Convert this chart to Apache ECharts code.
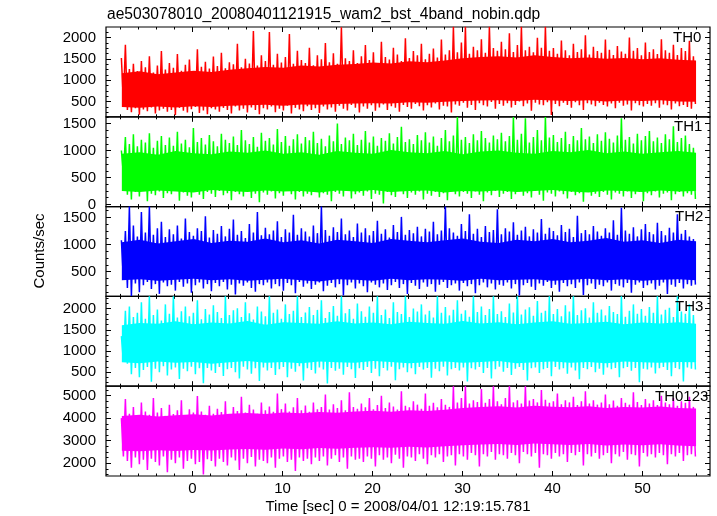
<!DOCTYPE html>
<html><head><meta charset="utf-8">
<script src="https://cdn.jsdelivr.net/npm/echarts@6/dist/echarts.min.js"></script>
<style>html,body{margin:0;padding:0;background:#fff}#c{width:717px;height:516px}</style>
</head><body><div id="c"></div>
<script>
// ---- data: per-sample-bin peak (Hi) and dip (Lo) count rates ----
const th0Hi = [1520,1830,1260,1380,1210,1450,1300,1560,1180,1340,1680,1250,
1400,1290,1610,1220,1360,1480,1190,1720,1310,1430,1270,1550,
1330,1640,1280,1420,1370,1850,1300,1500,1390,2150,1340,1580,
1450,2130,1360,1620,1410,1540,2080,1380,1690,1470,1400,1760,
1350,1580,1490,1870,1420,1630,1380,2240,1510,1450,1700,1400,
1560,1820,1470,1650,1390,1900,1540,1480,1760,1600,1450,1980,
1520,1680,1580,1850,1490,1620,1740,1530,1950,1600,1700,2250,
1650,1880,2250,1620,1780,1700,1960,1640,2250,1750,1690,1900,
1720,2100,1660,1820,2250,1700,1780,1650,1990,1760,2250,1690,
1750,1620,1930,1700,1580,1850,1660,1720,2050,1600,1780,1680,
1640,1950,1710,1590,1800,1670,1620,2000,1690,1750,1580,1880,
1660,1720,1610,1960,1700,1640,1830,1590,1750,1680,1920,1560];
const th0Lo = [480,300,250,340,190,310,270,360,220,290,330,260,
300,180,350,280,240,320,370,230,290,200,340,310,
260,350,300,220,380,290,330,240,360,300,200,340,
310,380,250,330,290,400,220,350,310,270,390,300,
340,230,380,310,360,260,400,330,290,420,350,240,
380,330,410,280,360,430,300,390,350,260,420,370,
330,440,390,290,410,360,450,310,400,380,240,430,
400,470,350,420,300,460,410,380,490,330,440,400,
460,360,420,500,390,450,280,470,430,410,480,180,
440,390,470,420,350,480,410,300,460,430,390,470,
420,380,450,340,470,400,430,290,460,410,380,440,
400,460,350,430,410,310,450,390,420,370,330,440];
const th1Hi = [1000,1250,1120,1300,1080,1200,1150,1320,1050,1180,1270,1100,
1240,1090,1350,1130,1200,1060,1420,1160,1230,1110,1290,1170,
1080,1310,1200,1140,1260,1100,1380,1190,1120,1250,1070,1330,
1180,1230,1110,1400,1160,1270,1090,1210,1300,1130,1250,1190,
1350,1140,1220,1080,1280,1170,1500,1120,1240,1190,1310,1100,
1200,1360,1150,1260,1090,1230,1180,1320,1130,1250,1440,1160,
1210,1120,1290,1190,1340,1150,1260,1090,1230,1380,1170,1280,
1620,1200,1250,1140,1300,1190,1360,1230,1150,1280,1210,1330,
1170,1270,1620,1200,1310,1600,1150,1250,1380,1190,1620,1240,
1290,1160,1230,1350,1120,1270,1190,1420,1210,1260,1140,1300,
1180,1340,1220,1150,1280,1600,1200,1250,1130,1310,1190,1270,
1360,1170,1240,1140,1300,1210,1450,1160,1230,1280,1120,1050];
const th1Lo = [560,180,90,230,150,260,60,200,170,240,120,210,
190,250,70,220,160,130,240,180,100,230,200,140,
250,170,210,80,230,190,150,260,120,200,40,220,
180,240,110,210,160,250,190,90,230,150,200,170,
240,130,210,180,60,230,200,150,250,110,190,220,
160,240,100,200,180,20,230,170,140,250,190,120,
220,180,240,90,200,160,230,140,210,80,250,190,
150,230,200,120,240,180,60,220,170,250,140,200,
230,100,190,240,160,210,130,250,180,70,220,200,
150,240,190,110,230,170,210,50,250,160,200,140,
230,180,90,220,200,150,240,120,190,230,60,210,
170,240,130,200,220,80,190,230,150,210,180,100];
const th2Hi = [1080,1250,1700,1350,1150,1600,1220,1700,1180,1300,1420,1140,
1280,1190,1350,1110,1480,1230,1160,1300,1250,1520,1130,1270,
1200,1340,1150,1290,1460,1180,1250,1120,1380,1220,1600,1170,
1310,1190,1260,1430,1140,1280,1220,1550,1180,1300,1240,1150,
1350,1210,1700,1270,1160,1320,1230,1480,1190,1260,1140,1390,
1220,1300,1170,1250,1440,1200,1280,1130,1360,1230,1510,1180,
1270,1210,1330,1150,1290,1240,1420,1190,1260,1700,1300,1220,
1160,1380,1250,1560,1200,1290,1140,1340,1230,1270,1650,1190,
1300,1240,1410,1180,1260,1330,1150,1280,1220,1470,1200,1310,
1250,1170,1360,1230,1290,1140,1530,1210,1270,1190,1340,1240,
1160,1300,1220,1450,1180,1680,1260,1200,1320,1150,1280,1380,
1230,1190,1400,1250,1170,1310,1220,1560,1200,1270,1150,1100];
const th2Lo = [350,200,50,280,120,250,310,180,270,90,300,230,
260,150,310,220,280,110,250,300,190,270,140,290,
230,310,170,260,80,280,240,300,200,130,270,250,
300,190,270,230,150,290,250,100,310,220,280,180,
260,300,140,240,290,210,270,60,250,300,190,280,
230,120,300,260,210,280,160,250,310,200,270,90,
290,240,180,300,220,270,130,260,310,200,250,280,
150,290,230,270,100,250,300,210,280,170,260,240,
300,190,270,60,250,290,220,160,280,240,310,200,
260,130,290,230,270,200,300,70,250,280,180,260,
230,300,150,270,240,210,290,110,260,300,200,250,
280,170,240,300,90,260,220,290,190,270,240,260];
const th3Hi = [1350,1950,2050,1800,1900,2150,1760,2290,1850,1980,1720,2100,
1880,2290,1790,1940,2050,1820,1900,2200,1750,1990,1860,2080,
1920,1780,2290,1850,1960,2010,1800,2150,1890,1740,2050,1930,
1820,2290,1900,1980,1760,2100,1870,1950,2290,1800,1910,2040,
1850,1970,2200,1780,1920,2060,1830,2290,1890,1990,1760,2120,
1940,1810,2050,1900,2290,1850,1980,1780,2150,1920,1870,2290,
1800,2000,1930,2100,1860,1950,1790,2290,1900,2040,1840,1970,
2200,1880,1960,1810,2290,1920,2050,1850,1990,2290,1870,1940,
1800,2120,1910,2290,1860,1980,2030,1830,2180,1900,1950,2290,
1870,1990,1820,2080,1930,2290,1850,1960,2010,1790,2150,1900,
1980,1840,2060,1920,1870,2290,1810,1950,2100,1880,1990,1830,
2040,1900,2290,1860,1970,2020,1800,2290,1930,1880,2100,1850];
const th3Lo = [750,700,450,600,380,550,620,270,580,500,640,420,
560,610,340,580,520,630,450,590,240,600,540,480,
620,410,570,600,500,350,630,560,460,590,290,610,
540,600,430,570,620,380,580,510,640,300,590,550,
470,610,560,230,600,530,580,440,620,570,360,590,
550,620,480,580,400,600,540,630,310,570,610,500,
590,450,620,560,600,370,580,520,630,420,570,600,
540,610,280,590,560,620,480,600,350,570,630,510,
600,430,580,620,550,300,590,610,480,570,600,400,
620,560,590,460,610,540,330,600,570,620,500,580,
440,610,570,600,380,590,620,530,600,260,580,560,
610,470,590,620,550,400,600,570,280,610,580,560];
const th0123Hi = [4000,4850,4200,4500,4050,4700,4300,4150,4900,4250,4450,4100,
4600,4180,4350,4800,4120,4400,4250,4980,4300,4150,4550,4200,
4420,4270,4750,4180,4500,4320,4950,4250,4600,4380,4200,4700,
4350,4520,4280,5100,4400,4650,4300,4480,4900,4350,4560,4280,
4700,4400,4500,5050,4380,4620,4450,4800,4350,5150,4500,4420,
4650,4480,4900,4400,4580,5000,4450,4700,4520,4380,5200,4550,
4480,4750,4600,4420,5100,4550,4680,4480,4850,4600,4500,5420,
4700,4900,5420,4650,4800,4720,5300,4680,4850,5420,4750,4620,
4900,5420,4700,4800,4650,5420,4780,4850,4700,5250,4820,4680,
4750,5100,4620,4800,4700,4950,4580,4750,5200,4650,4800,4600,
4700,5050,4620,4780,4550,4900,4680,4600,5150,4720,4580,4850,
4650,4800,4580,5000,4700,4620,4900,4550,4750,4680,4950,4500];
const th0123Lo = [2300,2100,1800,2250,1950,2150,1700,2200,2050,1900,2300,1600,
2150,2000,2250,1750,2100,2200,1950,2050,1500,2180,2100,1850,
2200,2050,1900,2250,2120,1700,2200,2000,2280,1850,2150,2100,
2000,2250,1800,2200,2300,2050,2150,1650,2250,2100,2200,1950,
2250,2100,2300,1900,2200,2350,2050,2250,1750,2300,2150,2200,
2050,2300,2200,1850,2350,2150,2250,2000,2380,2200,1800,2300,
2250,2100,2400,2200,1950,2350,2250,2400,2050,2300,2350,1900,
2400,2300,2150,2450,2350,1850,2400,2300,2500,2150,2400,2350,
2200,2450,2350,2000,2500,2400,2300,2450,1800,2400,2350,2200,
2450,2300,2400,2050,2450,2350,2500,1900,2400,2300,2450,2200,
2350,2450,2000,2400,2300,2500,2150,2400,2350,1850,2450,2300,
2400,2250,2450,2350,1950,2400,2300,2450,2100,2350,2400,2300];

// ---- dense core of each band (upper / lower edge of the solid colour), every ~2 s ----
const th0CoreHi = [1160,1210,1140,1180,1220,1190,1240,1280,1310,1290,1340,1320,1360,1380,1410,1390,1440,1420,1460,1510,1540,1560,1530,1580,1540,1510,1530,1500,1520,1490,1510,1480,1460];
const th0CoreLo = [370,350,380,360,390,370,400,410,420,400,430,420,440,450,460,450,480,470,490,510,520,530,510,540,520,510,530,500,520,510,530,500,490];
const th1CoreHi = [940,970,920,990,950,930,980,960,1000,940,970,920,990,960,940,1010,970,950,990,930,980,1000,960,940,990,970,1010,950,980,940,970,990,960];
const th1CoreLo = [250,230,260,240,220,270,250,230,260,240,250,220,260,240,270,230,250,260,220,250,240,260,230,250,270,240,220,260,250,230,260,240,250];
const th2CoreHi = [1040,1090,1020,1060,1100,1030,1070,1050,1110,1040,1080,1020,1090,1060,1030,1100,1070,1040,1080,1110,1050,1030,1090,1060,1100,1040,1070,1120,1050,1080,1030,1090,1060];
const th2CoreLo = [340,360,330,350,370,340,360,330,350,370,340,320,360,350,330,370,340,360,350,330,370,340,350,360,330,350,370,340,360,330,350,360,340];
const th3CoreHi = [1610,1660,1640,1700,1630,1670,1650,1710,1620,1680,1660,1640,1700,1650,1670,1630,1690,1660,1640,1710,1650,1680,1630,1670,1700,1640,1660,1690,1630,1670,1650,1680,1640];
const th3CoreLo = [730,710,750,720,740,700,730,760,720,740,710,750,730,720,760,740,710,730,750,720,740,760,710,730,750,720,740,710,750,730,720,740,730];
const th0123CoreHi = [4100,4150,4070,4130,4170,4120,4200,4230,4180,4250,4220,4270,4240,4300,4330,4280,4350,4320,4370,4450,4500,4530,4470,4550,4510,4480,4530,4450,4500,4470,4520,4450,4430];
const th0123CoreLo = [2550,2530,2570,2540,2590,2560,2610,2630,2600,2650,2620,2670,2640,2690,2710,2680,2730,2700,2750,2800,2830,2850,2810,2870,2840,2810,2850,2790,2830,2800,2840,2780,2750];

const panelNames = ['TH0','TH1','TH2','TH3','TH0123'];
const panelColors = ['#ff0000','#00ff00','#0000ff','#00ffff','#ff00ff'];
const yRanges = [[140,2245],[-40,1626],[43,1700],[167,2289],[1430,5420]];
const yMajorTicks = [[500,1000,1500,2000],[0,500,1000,1500],[500,1000,1500],[500,1000,1500,2000],[2000,3000,4000,5000]];
const yMinorStep = [125,125,125,125,250];
const xMajorTicks = [0,10,20,30,40,50];
const xMinorStep = 2;
const xRange = [-9.61, 57.5];
const tStart = -7.9, tStep = 64/144;
const coreStart = -7.85, coreStep = 63.8/32;
const titleText = 'ae503078010_20080401121915_wam2_bst_4band_nobin.qdp';
const xTitle = 'Time [sec] 0 = 2008/04/01 12:19:15.781';
const yTitle = 'Counts/sec';

const his = [th0Hi, th1Hi, th2Hi, th3Hi, th0123Hi];
const los = [th0Lo, th1Lo, th2Lo, th3Lo, th0123Lo];
const coreHis = [th0CoreHi, th1CoreHi, th2CoreHi, th3CoreHi, th0123CoreHi];
const coreLos = [th0CoreLo, th1CoreLo, th2CoreLo, th3CoreLo, th0123CoreLo];

// ---- layout ----
const FONT = 'Liberation Sans';
const plotLeft = 106, plotRight = 710, plotTop = 27, plotBottom = 476;
const panelH = (plotBottom - plotTop) / 5;
const labelLeft = [673, 674, 675, 675, 655];

function zig(hi, lo) {
  const out = [];
  for (let i = 0; i < hi.length; i++) {
    out.push([tStart + i * tStep, hi[i]]);
    out.push([tStart + (i + 0.5) * tStep, lo[i]]);
  }
  return out;
}
function minorVals(min, max, step, majors) {
  const out = [];
  for (let v = Math.ceil(min / step) * step; v <= max; v += step) {
    if (!majors.some(m => Math.abs(m - v) < 1e-6)) out.push(v);
  }
  return out;
}
const xMinor = minorVals(xRange[0], xRange[1], xMinorStep, xMajorTicks);
const fmt = v => String(v);

function bandRenderer(k) {
  return function (params, api) {
    const pts = [];
    const hi = coreHis[k], lo = coreLos[k];
    for (let i = 0; i < hi.length; i++) pts.push(api.coord([coreStart + i * coreStep, hi[i]]));
    for (let i = lo.length - 1; i >= 0; i--) pts.push(api.coord([coreStart + i * coreStep, lo[i]]));
    return {type: 'polygon', shape: {points: pts}, style: {fill: panelColors[k]}, silent: true};
  };
}

const grids = [], xAxes = [], yAxes = [], series = [], graphics = [];
for (let k = 0; k < 5; k++) {
  const top = plotTop + k * panelH;
  grids.push({left: plotLeft, width: plotRight - plotLeft, top: top, height: panelH,
    show: true, borderColor: '#000', borderWidth: 1.2, backgroundColor: 'transparent'});
  const tickStyle = {color: '#000', width: 1};
  const xBase = {type: 'value', gridIndex: k, min: xRange[0], max: xRange[1],
    axisLine: {show: false, onZero: false}, splitLine: {show: false}};
  xAxes.push(Object.assign({}, xBase, {position: 'bottom',
    axisTick: {show: true, inside: true, length: 5, customValues: xMajorTicks, lineStyle: tickStyle},
    axisLabel: {show: k === 4, customValues: xMajorTicks, formatter: fmt, margin: 5, color: '#000', fontSize: 15, fontFamily: FONT}}));
  xAxes.push(Object.assign({}, xBase, {position: 'bottom',
    axisTick: {show: true, inside: true, length: 2.5, customValues: xMinor, lineStyle: tickStyle},
    axisLabel: {show: false}}));
  xAxes.push(Object.assign({}, xBase, {position: 'top',
    axisTick: {show: true, inside: true, length: 5, customValues: xMajorTicks, lineStyle: tickStyle},
    axisLabel: {show: false}}));
  xAxes.push(Object.assign({}, xBase, {position: 'top',
    axisTick: {show: true, inside: true, length: 2.5, customValues: xMinor, lineStyle: tickStyle},
    axisLabel: {show: false}}));

  const yr = yRanges[k], ym = yMajorTicks[k];
  const yMin = minorVals(yr[0], yr[1], yMinorStep[k], ym);
  const yBase = {type: 'value', gridIndex: k, min: yr[0], max: yr[1],
    axisLine: {show: false, onZero: false}, splitLine: {show: false}};
  yAxes.push(Object.assign({}, yBase, {position: 'left',
    axisTick: {show: true, inside: true, length: 5, customValues: ym, lineStyle: tickStyle},
    axisLabel: {show: true, customValues: ym, formatter: fmt, margin: 10, color: '#000', fontSize: 15, fontFamily: FONT}}));
  yAxes.push(Object.assign({}, yBase, {position: 'left',
    axisTick: {show: true, inside: true, length: 2.5, customValues: yMin, lineStyle: tickStyle},
    axisLabel: {show: false}}));
  yAxes.push(Object.assign({}, yBase, {position: 'right',
    axisTick: {show: true, inside: true, length: 5, customValues: ym, lineStyle: tickStyle},
    axisLabel: {show: false}}));
  yAxes.push(Object.assign({}, yBase, {position: 'right',
    axisTick: {show: true, inside: true, length: 2.5, customValues: yMin, lineStyle: tickStyle},
    axisLabel: {show: false}}));

  // dense core of the band
  series.push({type: 'custom', xAxisIndex: 4 * k, yAxisIndex: 4 * k, data: [[0, 0]],
    renderItem: bandRenderer(k), silent: true, z: 1});
  // sample extremes
  series.push({type: 'line', name: panelNames[k], xAxisIndex: 4 * k, yAxisIndex: 4 * k,
    data: zig(his[k], los[k]), symbol: 'none', showSymbol: false, clip: true, silent: true,
    lineStyle: {color: panelColors[k], width: 1.5}, z: 2});

  graphics.push({type: 'text', left: labelLeft[k], top: top + 3, z: 100,
    style: {text: panelNames[k], font: '15px "' + FONT + '"', fill: '#000'}});
}
graphics.push({type: 'text', left: 107, top: 7, style: {text: titleText, font: '15.6px "' + FONT + '"', fill: '#000'}});
graphics.push({type: 'text', x: 398, y: 507, style: {text: xTitle, font: '15px "' + FONT + '"', fill: '#000', align: 'center', verticalAlign: 'middle'}});
graphics.push({type: 'text', x: 40, y: 251, rotation: Math.PI / 2, style: {text: yTitle, font: '15px "' + FONT + '"', fill: '#000', align: 'center', verticalAlign: 'middle'}});

const chart = echarts.init(document.getElementById('c'), null, {renderer: 'canvas'});
chart.setOption({
  animation: false,
  backgroundColor: '#fff',
  grid: grids, xAxis: xAxes, yAxis: yAxes, series: series, graphic: graphics
});
</script></body></html>
